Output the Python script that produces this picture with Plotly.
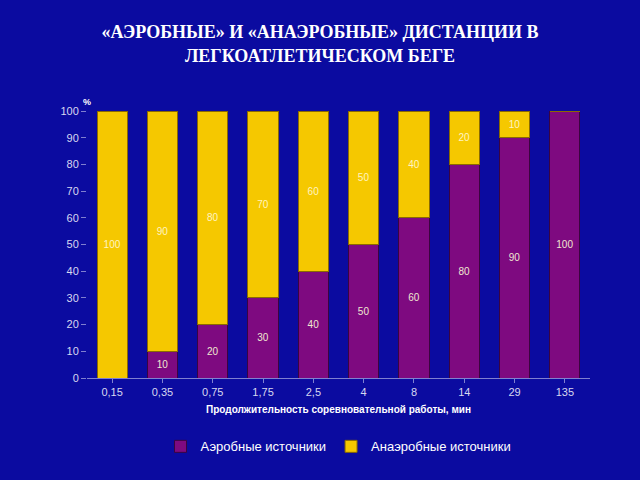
import plotly.graph_objects as go

categories = ["0,15", "0,35", "0,75", "1,75", "2,5", "4", "8", "14", "29", "135"]
aerobic = [0, 10, 20, 30, 40, 50, 60, 80, 90, 100]
anaerobic = [100, 90, 80, 70, 60, 50, 40, 20, 10, 0]

bg = "#0B0BA0"
purple = "#7E0A80"
yellow = "#F5C800"

def labels(vals):
    return [str(v) if v > 0 else "" for v in vals]

fig = go.Figure()
fig.add_trace(go.Bar(
    x=categories, y=aerobic, name="Аэробные источники",
    marker=dict(color=purple, line=dict(color="#3a0440", width=1)),
    text=labels(aerobic), textposition="inside", insidetextanchor="middle",
    textfont=dict(color="#F0E8D0", size=10, family="Arial"),
    width=0.6,
))
fig.add_trace(go.Bar(
    x=categories, y=anaerobic, name="Анаэробные источники",
    marker=dict(color=yellow, line=dict(color="#8a6a00", width=1)),
    text=labels(anaerobic), textposition="inside", insidetextanchor="middle",
    textfont=dict(color="#FFF4C0", size=10, family="Arial"),
    width=0.6,
))

fig.update_layout(
    width=640, height=480,
    barmode="stack",
    paper_bgcolor=bg, plot_bgcolor=bg,
    margin=dict(l=87, r=50, t=111, b=102),
    uniformtext=dict(minsize=8, mode="show"),
    title=dict(
        text="<b>«АЭРОБНЫЕ» И «АНАЭРОБНЫЕ» ДИСТАНЦИИ В<br>ЛЕГКОАТЛЕТИЧЕСКОМ БЕГЕ</b>",
        x=0.5, xanchor="center", y=0.92, yanchor="top",
        font=dict(family="Liberation Serif, Times New Roman, serif", size=18, color="white"),
    ),
    showlegend=True,
    legend=dict(
        orientation="h", x=0.5, xanchor="center", y=-0.2, yanchor="top",
        font=dict(family="Arial, Liberation Sans", size=13, color="white"),
        bgcolor="rgba(0,0,0,0)", itemwidth=30, traceorder="normal",
    ),
    bargap=0.4,
)

fig.update_xaxes(
    showgrid=False, showline=True, linecolor="#8080d0", linewidth=1,
    ticks="outside", tickcolor="#8080d0", ticklen=4,
    tickfont=dict(family="Arial, Liberation Sans", size=11, color="#D8D8F0"),
    title=dict(text="<b>Продолжительность соревновательной работы, мин</b>",
               font=dict(family="Arial, Liberation Sans", size=10, color="white"), standoff=8),
)
fig.update_yaxes(
    range=[0, 100], dtick=10, showgrid=False, showline=False, zeroline=False,
    ticks="outside", tickcolor="#8080d0", ticklen=5,
    tickfont=dict(family="Arial, Liberation Sans", size=11, color="#D8D8F0"),
)

fig.add_annotation(text="<b>%</b>", x=0, xref="paper", xanchor="center", y=1.0, yref="paper",
                   yanchor="bottom", yshift=2, showarrow=False,
                   font=dict(family="Arial", size=9, color="white"))

fig.write_html("out.html", config={"displayModeBar": False},
               post_script="document.body.style.margin='0';document.body.style.background='" + bg + "';")
